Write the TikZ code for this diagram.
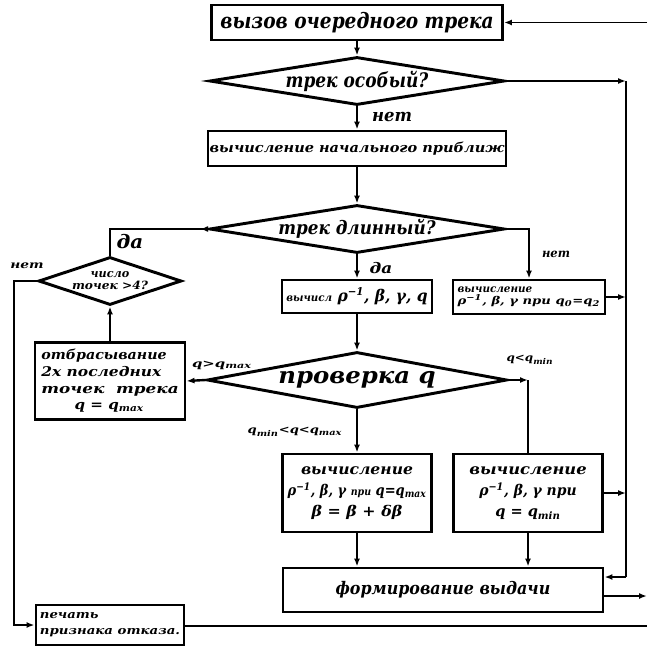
\documentclass[tikz,border=0pt]{standalone}
\usepackage{fontspec}
\setmainfont{DejaVu Serif}
\usetikzlibrary{shapes.geometric,arrows.meta}
\newcommand\tw[2]{\resizebox{#1pt}{\height}{#2}}
\newcommand\fs[2]{\fontsize{#1}{#2}\selectfont}
\begin{document}
\begin{tikzpicture}[x=0.75pt,y=-0.75pt,
  font=\bfseries\itshape,
  box/.style={draw, line width=2.2pt, inner sep=0pt, align=center},
  lbox/.style={box, align=left},
  dia/.style={draw, diamond, line width=2.2pt, inner sep=0pt},
  conn/.style={line width=1.8pt, -{Latex[length=6pt,width=4.5pt]}},
  plain/.style={line width=1.8pt},
  thinline/.style={line width=1.2pt},
  thinconn/.style={line width=1.2pt, -{Latex[length=6pt,width=4.5pt]}},
  lab/.style={inner sep=0pt}
]
\useasboundingbox (0,0) rectangle (647,649);
% boxes
\node[box, minimum width=218.25pt, minimum height=26.25pt, font=\bfseries\itshape\fs{16}{19}] (b1) at (357,22.5) {\tw{205}{вызов очередного трека}};
\node[dia, minimum width=221.25pt, minimum height=36pt, label={[font=\bfseries\itshape\fs{15}{18}]center:{\tw{107}{трек особый?}}}] (d1) at (357,81) {};
\node[box, minimum width=223.5pt, minimum height=26.25pt, font=\bfseries\itshape\fs{10}{12}] (b2) at (357,148.5) {\tw{221}{вычисление начального приближ}};
\node[dia, minimum width=221.25pt, minimum height=36pt, label={[font=\bfseries\itshape\fs{14}{17}]center:{\tw{118}{трек длинный?}}}] (d3) at (357,229) {};
\node[dia, minimum width=107.25pt, minimum height=36pt, label={[align=center, font=\bfseries\itshape\fs{8.5}{9}]center:{\tw{29}{число}\\\tw{57}{точек >4?}}}] (d4) at (110,281) {};
\node[box, minimum width=112.5pt, minimum height=24.75pt, font=\bfseries\itshape\fs{12}{14}] (b4) at (357,296.5) {\tw{106}{{\fs{8}{10}вычисл} ρ\textsuperscript{−1}, β, γ, q}};
\node[lbox, minimum width=114pt, minimum height=25.5pt, font=\bfseries\itshape\fs{8}{9}] (b5) at (529,297) {\tw{56}{вычисление}\\\tw{107}{ρ\textsuperscript{−1}, β, γ при q\textsubscript{0}=q\textsubscript{2}}};
\node[dia, minimum width=225pt, minimum height=42pt, label={[font=\bfseries\itshape\fs{17}{20}]center:{\tw{118}{проверка q}}}] (d5) at (357,380) {};
\node[lbox, minimum width=112.5pt, minimum height=57.75pt, font=\bfseries\itshape\fs{10}{12.5}] (b6) at (110,381) {\tw{94}{отбрасывание}\\\tw{90}{2х последних}\\\tw{103}{точек\ \ трека}\\\hspace{25pt}\tw{52}{q = q\textsubscript{max}}};
\node[box, minimum width=111.75pt, minimum height=58.5pt, font=\bfseries\itshape\fs{11}{16}] (b7) at (357,493) {\tw{84}{вычисление}\\\tw{104}{ρ\textsuperscript{−1}, β, γ {\fs{8}{9}при} q=q\textsubscript{max}}\\\tw{68}{β = β + δβ}};
\node[box, minimum width=111.75pt, minimum height=58.5pt, font=\bfseries\itshape\fs{11}{16}] (b8) at (528,493) {\tw{88}{вычисление}\\\tw{73}{ρ\textsuperscript{−1}, β, γ при}\\\tw{49}{q = q\textsubscript{min}}};
\node[box, minimum width=240pt, minimum height=33pt, font=\bfseries\itshape\fs{13}{15}] (b9) at (443,590) {\tw{161}{формирование выдачи}};
\node[lbox, minimum width=111pt, minimum height=30pt, font=\bfseries\itshape\fs{8.5}{12}] (b10) at (110,625) {\tw{44}{печать}\\\tw{105}{признака отказа.}};
% labels
\node[lab, font=\bfseries\itshape\fs{13}{15}] (n1) at (392,117) {\tw{30}{нет}};
\node[lab, font=\bfseries\itshape\fs{14}{16}] (n2) at (130,242) {\tw{20}{да}};
\node[lab, font=\bfseries\itshape\fs{8}{9}] (n3) at (27,266) {\tw{25}{нет}};
\node[lab, font=\bfseries\itshape\fs{11}{13}] (n4) at (381,268) {\tw{17}{да}};
\node[lab, font=\bfseries\itshape\fs{9}{10}] (n5) at (556,254) {\tw{21}{нет}};
\node[lab, font=\bfseries\itshape\fs{8}{9}] (n6) at (222,365) {\tw{45}{q>q\textsubscript{max}}};
\node[lab, font=\bfseries\itshape\fs{8}{9}] (n7) at (295,432) {\tw{71}{q\textsubscript{min}<q<q\textsubscript{max}}};
\node[lab, font=\bfseries\itshape\fs{8}{9}] (n8) at (530,360) {\tw{35}{q<q\textsubscript{min}}};
% coordinates
\coordinate (e1) at (647,22.5);
\coordinate (r1) at (626,81);
\coordinate (r4) at (626,577);
\coordinate (r2) at (528,380);
\coordinate (e2) at (647,596);
\coordinate (e3) at (647,626);
\coordinate (l1) at (14,281);
% connectors
\draw[thinconn] (e1) -- (b1.east);
\draw[conn] (b1) -- (d1);
\draw[conn] (d1) -- (b2);
\draw[conn] (b2) -- (d3);
\draw[conn] (d3) -- (b4);
\draw[conn] (d3.east) -| (b5.north);
\draw[plain, {Latex[length=6pt,width=4.5pt,reversed]}-] (d3.west) -| (d4.north);
\draw[thinconn] (d1.east) -- (r1);
\draw[thinline] (r1) -- (r4);
\draw[thinconn] (r4) -- (r4 -| b9.east);
\draw[thinconn] (b5.east) -- (b5.east -| r1);
\draw[thinconn] (b8.east) -- (b8.east -| r1);
\draw[conn] (b4) -- (d5);
\draw[conn] (d5.west) -- (b6.east);
\draw[conn] (b6.north) -- (d4.south);
\draw[conn] (d5.south) -- (b7.north);
\draw[conn] (d5.east) -- (r2);
\draw[plain] (r2) -- (b8.north);
\draw[conn] (b7.south) -- (b7.south |- b9.north);
\draw[conn] (b8.south) -- (b8.south |- b9.north);
\draw[thinconn] (d4.west) -- (l1) |- (b10.west);
\draw[thinconn] (b9.east |- e2) -- (e2);
\draw[thinline] (b10.east |- e3) -- (e3);
\end{tikzpicture}
\end{document}
